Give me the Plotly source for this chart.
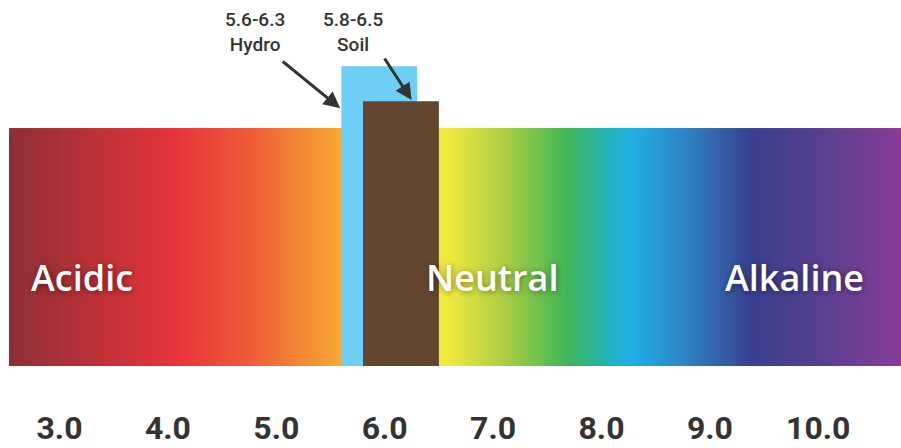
import numpy as np
import plotly.graph_objects as go

# pH scale ticks
ph_ticks = [3.0, 4.0, 5.0, 6.0, 7.0, 8.0, 9.0, 10.0]
tick_labels = ["3.0", "4.0", "5.0", "6.0", "7.0", "8.0", "9.0", "10.0"]

# Recommended pH ranges
range_names = ["Hydro", "Soil"]
range_low = [5.6, 5.8]
range_high = [6.3, 6.5]
range_heights = [1.26, 1.113]          # box heights relative to the band height (band = 0..1)
range_colors = ["#6dcff6", "#634530"]

# Region labels on the band
region_names = ["Acidic", "Neutral", "Alkaline"]
region_x = [3.21, 6.99, 9.78]

# axis extents (238 px per y unit over a 402 px tall plot area)
X_MIN, X_MAX = 2.451, 10.763
BAND_START = 2.534
Y_MAX = 1.538
Y_MIN = Y_MAX - 402 / 238

fig = go.Figure()

# gradient band (heatmap whose colour follows pH)
edges = np.linspace(BAND_START, X_MAX, 601)
centers = (edges[:-1] + edges[1:]) / 2
colorscale = [
    [0.0, "#8e2e36"],
    [0.186, "#e8333a"],
    [0.27, "#ee5b38"],
    [0.366, "#f8a532"],
    [0.49, "#f2ea3d"],
    [0.55, "#b4d043"],
    [0.627, "#3db656"],
    [0.67, "#22b2b4"],
    [0.696, "#1fb0e6"],
    [0.755, "#2e86c6"],
    [0.833, "#383f8f"],
    [0.92, "#5d3f90"],
    [1.0, "#8a3b97"],
]
fig.add_trace(go.Heatmap(
    x=edges, y=[0, 1], z=[centers],
    colorscale=colorscale, zmin=BAND_START, zmax=X_MAX,
    showscale=False, hoverinfo="skip",
))

# recommended range boxes
for name, lo, hi, h, c in zip(range_names, range_low, range_high, range_heights, range_colors):
    fig.add_trace(go.Bar(
        x=[(lo + hi) / 2], y=[h], base=0, width=[hi - lo],
        marker=dict(color=c, line=dict(width=0)), name=name, showlegend=False,
    ))

annotations = []
# range labels above with arrows
label_x = [4.803, 5.707]
arrow_heads = [(range_low[0] - 0.01, 1.083), (range_low[1] + 0.64 * (range_high[1] - range_low[1]), 1.118)]
arrow_tails = [(-59, -48), (-28, -43)]
label_font = dict(family="Roboto", size=19, color="#333333", weight=500)
for name, lo, hi, lx, (hx, hy), (ax, ay) in zip(range_names, range_low, range_high, label_x, arrow_heads, arrow_tails):
    annotations.append(dict(
        x=lx, y=1.403, xref="x", yref="y", text=f"{lo}-{hi}<br>{name}",
        showarrow=False, font=label_font, align="center",
    ))
    annotations.append(dict(
        x=hx, y=hy, xref="x", yref="y", text="", showarrow=True,
        ax=ax, ay=ay, arrowhead=2, arrowsize=1.1, arrowwidth=3, arrowcolor="#333333",
    ))

for name, rx in zip(region_names, region_x):
    annotations.append(dict(
        x=rx, y=0.374, xref="x", yref="y", text=name, showarrow=False,
        font=dict(family="Open Sans", size=36, color="white", weight=600,
                  shadow="1px 1px 6px rgba(0,0,0,0.45)"),
    ))

fig.update_layout(
    width=901, height=448,
    margin=dict(l=0, r=0, t=0, b=46, autoexpand=False),
    plot_bgcolor="white", paper_bgcolor="white",
    barmode="overlay",
    showlegend=False,
    annotations=annotations,
    xaxis=dict(
        range=[X_MIN, X_MAX], tickvals=ph_ticks, ticktext=tick_labels,
        showgrid=False, zeroline=False, showline=False, ticks="",
        tickfont=dict(family="Roboto", size=32, color="#333333", weight=700),
        ticklabelstandoff=4, automargin=False,
        fixedrange=True,
    ),
    yaxis=dict(
        range=[Y_MIN, Y_MAX], visible=False, showgrid=False, zeroline=False,
        fixedrange=True, automargin=False,
    ),
)

fig.write_html("out.html")
